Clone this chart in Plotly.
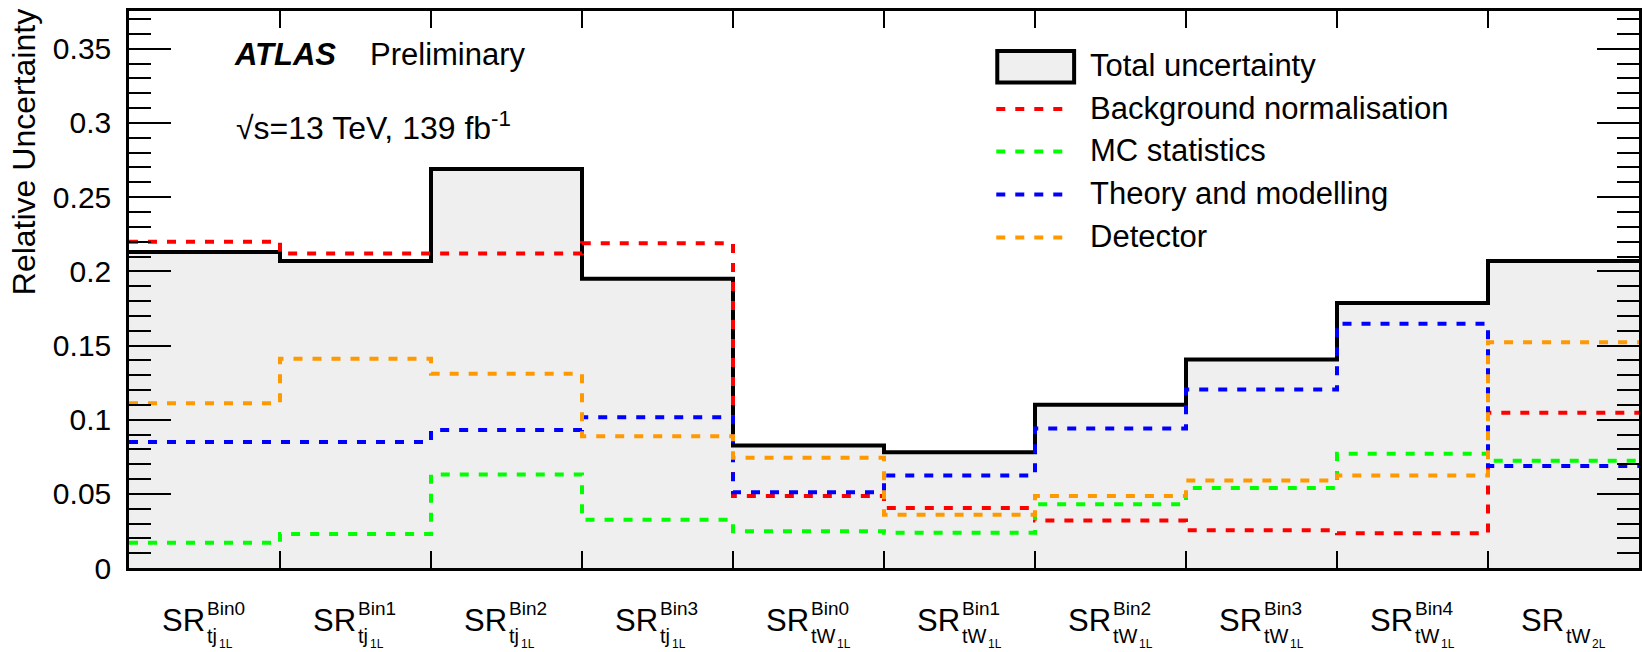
import plotly.graph_objects as go

# ---------------- data ----------------
sr_sup = ["Bin0", "Bin1", "Bin2", "Bin3", "Bin0", "Bin1", "Bin2", "Bin3", "Bin4", ""]
sr_sub = ["tj", "tj", "tj", "tj", "tW", "tW", "tW", "tW", "tW", "tW"]
sr_subsub = ["1L", "1L", "1L", "1L", "1L", "1L", "1L", "1L", "1L", "2L"]

total = [0.213, 0.207, 0.269, 0.195, 0.0825, 0.078, 0.110, 0.1405, 0.1787, 0.207]
bkg_norm = [0.220, 0.212, 0.212, 0.219, 0.0485, 0.0404, 0.032, 0.0255, 0.0235, 0.1047]
mc_stat = [0.017, 0.023, 0.063, 0.0325, 0.0247, 0.0238, 0.043, 0.054, 0.077, 0.0723]
theory = [0.085, 0.085, 0.093, 0.1017, 0.051, 0.0623, 0.094, 0.1203, 0.1646, 0.0687]
detector = [0.111, 0.141, 0.131, 0.0889, 0.0743, 0.0359, 0.0485, 0.059, 0.0624, 0.1522]

series_names = ["Total uncertainty", "Background normalisation", "MC statistics",
                "Theory and modelling", "Detector"]
series_colors = ["#000000", "#ff0000", "#00ff00", "#0000ff", "#ff9900"]

y_tickvals = [0, 0.05, 0.1, 0.15, 0.2, 0.25, 0.3, 0.35]
y_ticktext = ["0", "0.05", "0.1", "0.15", "0.2", "0.25", "0.3", "0.35"]
y_minor = [i / 100 for i in range(0, 38)]

# ---------------- geometry ----------------
W, H = 1642, 652
L, R, T, B = 129, 0, 11, 84
PW, PH = W - L - R, H - T - B
FONT = "Liberation Sans, Arial, Helvetica, sans-serif"


def px(x):
    return (x - L) / PW


def py(y):
    return (H - B - y) / PH


nb = len(total)
edges = list(range(nb + 1))


def step(vals):
    return list(vals) + [vals[-1]]


fig = go.Figure()
fig.add_trace(go.Scatter(x=edges, y=step(total), mode="lines", line_shape="hv",
                         line=dict(color="black", width=4), fill="tozeroy",
                         fillcolor="#efefef", name=series_names[0], showlegend=False))
for vals, name, col in zip([bkg_norm, mc_stat, theory, detector], series_names[1:], series_colors[1:]):
    fig.add_trace(go.Scatter(x=edges, y=step(vals), mode="lines", line_shape="hv",
                             line=dict(color=col, width=4, dash="9px,10px"),
                             name=name, showlegend=False))

ann = []
shapes = []

# x-axis category labels (SR with super/subscripts)
wid = {"t": 0.278, "j": 0.222, "W": 0.944}
SUBFS = 20
for i in range(nb):
    c = i + 0.5
    ann.append(dict(x=c, xref="x", y=0, yref="paper", yshift=-(620.0 - (H - B)), xanchor="right",
                    yanchor="middle", text="SR", showarrow=False, borderpad=0, xshift=1,
                    font=dict(family=FONT, size=31, color="black")))
    if sr_sup[i]:
        ann.append(dict(x=c, xref="x", y=0, yref="paper", yshift=-(608.4 - (H - B)), xanchor="left",
                        yanchor="middle", text=sr_sup[i], showarrow=False, borderpad=0, xshift=1,
                        font=dict(family=FONT, size=19, color="black")))
    ann.append(dict(x=c, xref="x", y=0, yref="paper", yshift=-(636.0 - (H - B)), xanchor="left",
                    yanchor="middle", text=sr_sub[i], showarrow=False, borderpad=0, xshift=1,
                    font=dict(family=FONT, size=SUBFS, color="black")))
    w = sum(wid.get(ch, 0.55) for ch in sr_sub[i]) * SUBFS
    ann.append(dict(x=c, xref="x", y=0, yref="paper", yshift=-(644.0 - (H - B)), xanchor="left",
                    yanchor="middle", text=sr_subsub[i], showarrow=False, borderpad=0, xshift=2 + w + 1,
                    font=dict(family=FONT, size=12, color="black")))

# y-axis title
ann.append(dict(x=px(24), xref="paper", y=py(8), yref="paper", xanchor="center", yanchor="top",
                text="Relative Uncertainty", textangle=-90, showarrow=False, borderpad=0,
                font=dict(family=FONT, size=32, color="black")))

# ATLAS label
ann.append(dict(x=px(233), xref="paper", y=py(55), yref="paper", xanchor="left", yanchor="middle",
                text="<b><i>ATLAS</i></b>", showarrow=False, borderpad=0,
                font=dict(family=FONT, size=31, color="black")))
ann.append(dict(x=px(369), xref="paper", y=py(55), yref="paper", xanchor="left", yanchor="middle",
                text="Preliminary", showarrow=False, borderpad=0,
                font=dict(family=FONT, size=31, color="black")))
ann.append(dict(x=px(235), xref="paper", y=py(126), yref="paper", xanchor="left", yanchor="middle",
                text="\u221As=13 TeV, 139 fb<sup>-1</sup>", showarrow=False, borderpad=0,
                font=dict(family=FONT, size=32, color="black")))

# manual legend
rows = [65, 108, 150.5, 193.5, 236.5]
shapes.append(dict(type="rect", xref="paper", yref="paper", x0=px(999), x1=px(1076),
                   y0=py(51), y1=py(82.5), line=dict(color="black", width=4), fillcolor="#efefef",
                   layer="above"))
for k, (name, col) in enumerate(zip(series_names, series_colors)):
    ann.append(dict(x=px(1091), xref="paper", y=py(rows[k]), yref="paper", xanchor="left",
                    yanchor="middle", text=name, showarrow=False, borderpad=0,
                    font=dict(family=FONT, size=31, color="black")))
    if k > 0:
        shapes.append(dict(type="line", xref="paper", yref="paper", x0=px(998), x1=px(1067),
                           y0=py(rows[k] + 1), y1=py(rows[k] + 1),
                           line=dict(color=col, width=4, dash="9px,10px"), layer="above"))

fig.update_layout(
    width=W, height=H,
    margin=dict(l=L, r=R, t=T, b=B),
    paper_bgcolor="white", plot_bgcolor="white",
    showlegend=False,
    annotations=ann, shapes=shapes,
    xaxis=dict(range=[0, nb], tickmode="array", tickvals=edges[1:-1], ticks="inside", ticklen=17,
               tickwidth=2, tickcolor="black", showticklabels=False, showline=True, linewidth=2.5,
               linecolor="black", mirror="ticks", showgrid=False, zeroline=False),
    yaxis=dict(range=[0, 0.3755], tickmode="array", tickvals=y_tickvals, ticktext=y_ticktext,
               ticks="inside", ticklen=42, tickwidth=2, tickcolor="black",
               minor=dict(tickmode="array", tickvals=y_minor, ticks="inside", ticklen=22,
                          tickwidth=2, tickcolor="black", showgrid=False),
               showline=True, linewidth=2.5, linecolor="black", mirror="ticks", showgrid=False,
               zeroline=False, ticklabelstandoff=9,
               tickfont=dict(family=FONT, size=30, color="black")),
)

fig.write_html("out.html")
